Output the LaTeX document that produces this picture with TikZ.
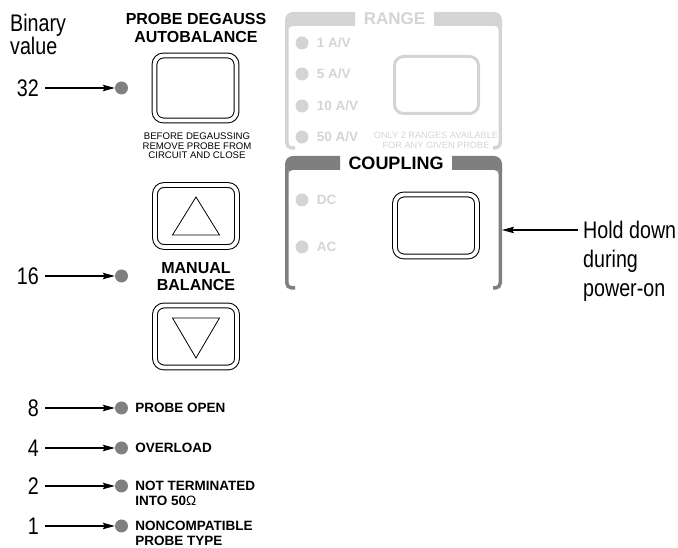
\documentclass[tikz,border=0pt]{standalone}
\usepackage{fontspec}
\setmainfont{Liberation Sans}
\newfontfamily\narrowfont[FakeStretch=0.82]{Liberation Sans}
\usepackage{tikz}
\usetikzlibrary{arrows.meta,positioning,calc}
\definecolor{ledgray}{HTML}{808080}
\definecolor{pale}{HTML}{D4D4D4}
\definecolor{darkline}{HTML}{7F7F7F}

% frame of a panel: colour, band top, bottom, left band end, right band start
\newcommand{\panelframe}[5]{%
  \fill[#1] (#4,#2) -- (293,#2) arc[start angle=90,end angle=180,radius=8] -- (285,#2-14) -- (#4,#2-14) -- cycle;
  \fill[#1] (#5,#2) -- (494,#2) arc[start angle=90,end angle=0,radius=8] -- (502,#2-14) -- (#5,#2-14) -- cycle;
  \fill[#1] (288.5,#2-14) -- (288.5,#2-18) arc[start angle=180,end angle=90,radius=4] -- cycle;
  \fill[#1] (498.5,#2-14) -- (498.5,#2-18) arc[start angle=0,end angle=90,radius=4] -- cycle;
  \draw[#1, line width=3.5pt, rounded corners=5pt] (295,#3) -- (286.75,#3) -- (286.75,#2-12);
  \draw[#1, line width=3.5pt, rounded corners=5pt] (493,#3) -- (500.25,#3) -- (500.25,#2-12);
}

\begin{document}
\begin{tikzpicture}[x=1pt, y=1pt,
  led/.style={circle, fill=ledgray, minimum size=13pt, inner sep=0pt},
  dimled/.style={circle, fill=pale, minimum size=13pt, inner sep=0pt},
  num/.style={font=\narrowfont\fontsize{24}{24}\selectfont, anchor=east, inner xsep=6pt, inner ysep=0pt},
  lbl/.style={font=\bfseries\fontsize{13.5}{15}\selectfont, align=left, inner sep=0pt},
  dimlbl/.style={lbl, text=pale},
  caption/.style={font=\bfseries\fontsize{16}{17.5}\selectfont, align=center, inner sep=0pt},
  fine/.style={font=\fontsize{9.6}{9.7}\selectfont, align=center, inner sep=0pt},
  button/.style={draw, double, double distance=3.8pt, line width=1pt, rounded corners=9pt,
                 minimum width=82pt, minimum height=62pt, inner sep=0pt},
  pointer/.style={-{Stealth[length=12pt,width=6.5pt,inset=2pt]}, line width=1.2pt},
  callout/.style={font=\narrowfont\fontsize{24}{29}\selectfont, align=left, inner xsep=5pt, inner ysep=0pt}
]
  \useasboundingbox (0,0) rectangle (678,548);

  % left column
  \node[callout, anchor=north west, inner xsep=0pt, font=\narrowfont\fontsize{24}{22}\selectfont] (binary) at (10,534) {Binary\\value};
  \node[caption] (degauss) at (196,520) {PROBE DEGAUSS\\AUTOBALANCE};
  \node[button, minimum height=65pt] (degbtn) at (195.5,460) {};
  \node[fine] (warn) at (197,402) {BEFORE DEGAUSSING\\REMOVE PROBE FROM\\CIRCUIT AND CLOSE};
  \node[button] (upbtn) at (196,332) {};
  \draw[line width=0.8pt] ($(upbtn)+(-23.5,-19)$) -- ($(upbtn)+(0,19)$) -- ($(upbtn)+(23.5,-19)$) -- cycle;
  \node[caption] (manual) at (196,271.5) {MANUAL\\BALANCE};
  \node[button] (downbtn) at (196,211.5) {};
  \draw[line width=0.8pt] ($(downbtn)+(-23.5,18.5)$) -- ($(downbtn)+(0,-21.5)$) -- ($(downbtn)+(23.5,18.5)$) -- cycle;

  \node[led] (led32) at (121.5,460) {};
  \node[led] (led16) at (121.5,272) {};
  \node[led] (led8) at (121.5,140) {};
  \node[led] (led4) at (121.5,100) {};
  \node[led] (led2) at (121.5,62) {};
  \node[led] (led1) at (121.5,22) {};

  \node[num] (n32) at (45,460) {32};
  \node[num] (n16) at (45,272) {16};
  \node[num] (n8) at (45,140) {8};
  \node[num] (n4) at (45,100) {4};
  \node[num] (n2) at (45,62) {2};
  \node[num] (n1) at (45,22) {1};
  \foreach \v in {32,16,8,4,2,1}
    \draw[pointer] (n\v) -- (led\v);

  \node[lbl, right=7pt of led8] (open) {PROBE OPEN};
  \node[lbl, right=7pt of led4] (overload) {OVERLOAD};
  \node[lbl, right=7pt of led2, anchor=north west, yshift=4.8pt] (noterm) {NOT TERMINATED\\INTO 50{\mdseries Ω}};
  \node[lbl, right=7pt of led1, anchor=north west, yshift=4.8pt] (noncomp) {NONCOMPATIBLE\\PROBE TYPE};

  % range panel
  \panelframe{pale}{536}{400}{355}{434}
  \node[caption, text=pale, font=\bfseries\fontsize{17}{17}\selectfont] (range) at (394.5,529) {RANGE};
  \foreach \r/\y in {1/505,5/474,10/442,50/411} {
    \node[dimled] (rled\r) at (302,\y) {};
    \node[dimlbl, right=8pt of rled\r] {\r\ A/V};
  }
  \node[draw=pale, line width=3pt, rounded corners=9pt, minimum width=84pt, minimum height=57pt] (rangebtn) at (436.5,463) {};
  \node[fine, text=pale, font=\fontsize{9.2}{9.7}\selectfont] (only) at (436,408) {ONLY 2 RANGES AVAILABLE\\FOR ANY GIVEN PROBE};

  % coupling panel
  \panelframe{darkline}{392}{260}{340}{452}
  \node[caption, font=\bfseries\fontsize{18}{18}\selectfont] (coupling) at (396,385) {COUPLING};
  \node[dimled] (dcled) at (302,348) {};
  \node[dimlbl, right=8pt of dcled] (dc) {DC};
  \node[dimled] (acled) at (302,301) {};
  \node[dimlbl, right=8pt of acled] (ac) {AC};
  \node[button] (cplbtn) at (436,322.5) {};

  \coordinate (holdtip) at (502,318);
  \node[callout, anchor=north west] (hold) at (578,327) {Hold down\\during\\power-on};
  \draw[pointer] (hold.west |- holdtip) -- (holdtip);
\end{tikzpicture}
\end{document}
